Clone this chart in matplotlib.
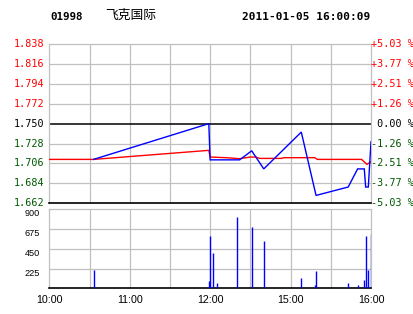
import matplotlib
matplotlib.use("Agg")
import matplotlib.pyplot as plt
import matplotlib.transforms as mtransforms

# ---- data ----
code = "01998"
name = "飞克国际"
stamp = "2011-01-05 16:00:09"
prev_close = 1.750
price_ticks = [1.662, 1.684, 1.706, 1.728, 1.750, 1.772, 1.794, 1.816, 1.838]
pct_labels = ["-5.03 %", "-3.77 %", "-2.51 %", "-1.26 %", " 0.00 %",
              "+1.26 %", "+2.51 %", "+3.77 %", "+5.03 %"]
vol_ticks = [225, 450, 675, 900]
time_ticks = [0, 60, 120, 180, 240]
time_labels = ["10:00", "11:00", "12:00", "15:00", "16:00"]

# trading minutes since 10:00 (morning 10:00-12:30, afternoon 14:30-16:00)
price_t = [33, 119, 120, 122, 125, 142, 151, 160, 188, 199, 223, 230, 235, 236, 238, 240]
price_v = [1.7105, 1.750, 1.7100, 1.7100, 1.7100, 1.7100, 1.7200, 1.7000, 1.7407,
           1.6707, 1.6800, 1.7000, 1.7000, 1.6800, 1.6800, 1.7300]
avg_t = [0, 33, 119, 120, 132, 142, 150, 154, 157, 173, 175, 198, 200, 233, 237, 240]
avg_v = [1.7105, 1.7105, 1.7205, 1.7131, 1.7124, 1.7113, 1.7131, 1.7131, 1.7116,
         1.7116, 1.7124, 1.7124, 1.7105, 1.7105, 1.7050, 1.7080]
vol_t = [33, 119, 120, 122, 125, 140, 151, 160, 188, 198, 199, 223, 230, 235, 236, 238, 240]
vol_v = [208, 83, 596, 402, 60, 812, 698, 539, 117, 38, 197, 60, 38, 95, 596, 212, 620]

RED = "#FF0000"
GREEN = "#005A00"
BLUE = "#0000FF"
GRID = "#C0C0C0"

W, H = 414, 314
fig = plt.figure(figsize=(W / 100, H / 100), dpi=100)
fig.patch.set_facecolor("white")

def box(l, t, r, b):
    return [l / W, 1 - b / H, (r - l) / W, (b - t) / H]

L, R = 49.3, 371.0
ax = fig.add_axes(box(L, 44.0, R, 203.3))
axv = fig.add_axes(box(L, 209.3, R, 288.3))

# ---- main price panel ----
ax.set_xlim(0, 240)
ax.set_ylim(price_ticks[0], price_ticks[-1])
for x in range(30, 240, 30):
    ax.axvline(x, color=GRID, lw=0.9, zorder=1)
for p in price_ticks[1:-1]:
    if abs(p - prev_close) < 1e-9:
        ax.axhline(p, color="black", lw=1.1, zorder=2)
    else:
        ax.axhline(p, color=GRID, lw=0.9, zorder=1)
ax.plot(avg_t, avg_v, color=RED, lw=1.0, zorder=3, solid_joinstyle="miter")
ax.plot(price_t, price_v, color=BLUE, lw=1.0, zorder=4, solid_joinstyle="miter")
ax.set_xticks([])
ax.set_yticks([])
for s in ["left", "top", "right"]:
    ax.spines[s].set_color(GRID)
    ax.spines[s].set_linewidth(0.9)
ax.spines["bottom"].set_color("black")
ax.spines["bottom"].set_linewidth(1.2)

mono = dict(family="DejaVu Sans Mono", fontsize=7.3)
for p, lab in zip(price_ticks, pct_labels):
    if p > prev_close + 1e-9:
        c = RED
    elif p < prev_close - 1e-9:
        c = GREEN
    else:
        c = "black"
    ax.annotate(f"{p:.3f}", xy=(0, p), xycoords=("axes fraction", "data"),
                xytext=(-3.5, 0), textcoords="offset points",
                ha="right", va="center", color=c, **mono)
    ax.annotate(lab, xy=(1, p), xycoords=("axes fraction", "data"),
                xytext=(0.3, 0), textcoords="offset points",
                ha="left", va="center", color=c, **mono)

# ---- volume panel ----
axv.set_xlim(0, 240)
axv.set_ylim(0, 900)
for x in range(30, 240, 30):
    axv.axvline(x, color=GRID, lw=0.9, zorder=1)
for v in vol_ticks[:-1]:
    axv.axhline(v, color=GRID, lw=0.9, zorder=1)
axv.vlines(vol_t, 0, vol_v, color=BLUE, lw=1.0, zorder=3)
axv.set_yticks(vol_ticks)
axv.set_yticklabels([str(v) for v in vol_ticks], fontsize=6.6, family="Liberation Sans")
axv.tick_params(axis="y", length=0, pad=7)
shift = mtransforms.ScaledTranslation(0, -3.5 / 100, fig.dpi_scale_trans)
for lbl in axv.get_yticklabels():
    lbl.set_transform(lbl.get_transform() + shift)
axv.set_xticks(time_ticks)
axv.set_xticklabels(time_labels, fontsize=7.7, family="Liberation Sans")
axv.tick_params(axis="x", length=0, pad=5)
for s in ["left", "top", "right"]:
    axv.spines[s].set_color(GRID)
    axv.spines[s].set_linewidth(0.9)
axv.spines["bottom"].set_color("black")
axv.spines["bottom"].set_linewidth(1.2)

# ---- header ----
fig.text(50 / W, 1 - 16.5 / H, code, family="DejaVu Sans Mono", fontweight="bold",
         fontsize=7.8, ha="left", va="center")
fig.text(105 / W, 1 - 15.5 / H, name, family=["Noto Sans CJK SC", "DejaVu Sans"],
         fontsize=9.2, ha="left", va="center")
fig.text(370 / W, 1 - 16.5 / H, stamp, family="DejaVu Sans Mono", fontweight="bold",
         fontsize=8.0, ha="right", va="center")

fig.savefig("out.png", dpi=100, facecolor="white")
